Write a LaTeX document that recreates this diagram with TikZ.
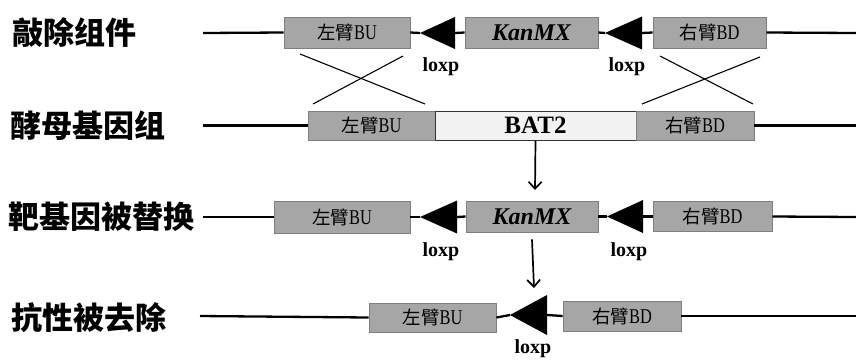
\documentclass[tikz,border=0pt]{standalone}
\usepackage{fontspec}
\setmainfont{Liberation Serif}
\newfontfamily\cjk{Noto Sans CJK SC}
\usetikzlibrary{arrows.meta}

\definecolor{armfill}{HTML}{A6A6A6}
\definecolor{armedge}{HTML}{7F7F7F}
\definecolor{genefill}{HTML}{F2F2F2}

% label of a homology arm: Chinese word plus a condensed serif suffix
\newcommand\armlabel[2]{{\cjk\fontsize{18.5}{18.5}\selectfont #1}\scalebox{0.78}[1]{\rmfamily\fontsize{21}{21}\selectfont #2}}

\tikzset{
  rowlabel/.style={anchor=west, inner sep=0pt, font=\cjk\bfseries\fontsize{31}{31}\selectfont},
  armbox/.style={draw=armedge, fill=armfill, line width=0.8pt, inner sep=0pt, minimum height=31pt},
  markerbox/.style={armbox, font=\bfseries\itshape\fontsize{24}{24}\selectfont},
  genebox/.style={draw=black!80, fill=genefill, line width=1pt, inner sep=0pt, minimum height=29pt,
                  font=\bfseries\fontsize{25}{25}\selectfont},
  backbone/.style={line width=2.3pt, line cap=butt},
  crossline/.style={line width=1.1pt},
  sitelabel/.style={font=\bfseries\fontsize{20}{20}\selectfont, inner sep=0pt},
  downarrow/.style={line width=1.7pt, -{Straight Barb[length=7pt,width=13pt,line width=1.7pt]}},
}

\begin{document}
\begin{tikzpicture}[x=1pt, y=-1pt]
\path[use as bounding box] (0,0) rectangle (856,360);

% ---------------- row 1: knockout cassette ----------------
\node[rowlabel] (L1) at (12,32) {敲除组件};
\coordinate (s1) at (203,33);
\coordinate (e1) at (856,33);
\node[armbox, minimum width=126pt] (a1) at (347,32.5) {\armlabel{左臂}{BU}};
\node[markerbox, minimum width=133pt] (k1) at (531.5,32.5) {KanMX};
\node[armbox, minimum width=113pt] (b1) at (709.5,32.5) {\armlabel{右臂}{BD}};
\coordinate (p1tip) at (420,33); \coordinate (p1base) at (455,33);
\coordinate (p2tip) at (605,33); \coordinate (p2base) at (642,33);
\draw[backbone] (s1) -- (a1.west);
\draw[backbone] (a1.east) -- (p1tip);
\draw[backbone] (p1base) -- (k1.west);
\draw[backbone] (k1.east) -- (p2tip);
\draw[backbone] (p2base) -- (b1.west);
\draw[backbone] (b1.east) -- (e1);
\fill (p1tip) -- ([yshift=16pt]p1base) -- ([yshift=-16pt]p1base) -- cycle;
\fill (p2tip) -- ([yshift=16.5pt]p2base) -- ([yshift=-16.5pt]p2base) -- cycle;
\node[sitelabel] (x1) at (441,67) {loxp};
\node[sitelabel] (x2) at (627,67) {loxp};

% crossover between cassette arms and genome arms
\coordinate (c1a) at (300,54);  \coordinate (c1b) at (425,104);
\coordinate (c1c) at (403,56);  \coordinate (c1d) at (313,104);
\coordinate (c2a) at (660,56);  \coordinate (c2b) at (753,104);
\coordinate (c2c) at (760,57);  \coordinate (c2d) at (642,104);
\draw[crossline] (c1a) -- (c1b);
\draw[crossline] (c1c) -- (c1d);
\draw[crossline] (c2a) -- (c2b);
\draw[crossline] (c2c) -- (c2d);

% ---------------- row 2: yeast genome ----------------
\node[rowlabel] (L2) at (10,126) {酵母基因组};
\coordinate (s2) at (203,125.5);
\coordinate (e2) at (856,125.5);
\node[armbox, minimum width=127pt, minimum height=29pt] (a2) at (371.5,125.5) {\armlabel{左臂}{BU}};
\node[genebox, minimum width=201pt] (g2) at (535.5,125.5) {BAT2};
\node[armbox, minimum width=118pt, minimum height=29pt] (b2) at (695,125.5) {\armlabel{右臂}{BD}};
\draw[backbone] (s2) -- (a2.west);
\draw[backbone] (b2.east) -- (e2);

\coordinate (d1) at (535,190);
\draw[downarrow] (g2.south) -- (d1);

% ---------------- row 3: target gene replaced ----------------
\node[rowlabel] (L3) at (8,217) {靶基因被替换};
\coordinate (s3) at (203,217);
\coordinate (e3) at (856,217);
\node[armbox, minimum width=136pt, minimum height=32pt] (a3) at (342,217) {\armlabel{左臂}{BU}};
\node[markerbox, minimum width=132pt] (k3) at (532,216.5) {KanMX};
\node[armbox, minimum width=119pt, minimum height=30pt] (b3) at (712.5,216.5) {\armlabel{右臂}{BD}};
\coordinate (p3tip) at (420,217); \coordinate (p3base) at (457,217);
\coordinate (p4tip) at (607,216.5); \coordinate (p4base) at (643,216.5);
\draw[backbone] (s3) -- (a3.west);
\draw[backbone] (a3.east) -- (p3tip);
\draw[backbone] (p3base) -- (k3.west);
\draw[backbone] (k3.east) -- (p4tip);
\draw[backbone] (p4base) -- (b3.west);
\draw[backbone] (b3.east) -- (e3);
\fill (p3tip) -- ([yshift=16.5pt]p3base) -- ([yshift=-16.5pt]p3base) -- cycle;
\fill (p4tip) -- ([yshift=16.5pt]p4base) -- ([yshift=-16.5pt]p4base) -- cycle;
\node[sitelabel] (x3) at (441,252) {loxp};
\node[sitelabel] (x4) at (629,252) {loxp};

\coordinate (d2) at (534,288);
\draw[downarrow] ([yshift=-7pt]k3.south) -- (d2);

% ---------------- row 4: resistance marker removed ----------------
\node[rowlabel] (L4) at (11,318) {抗性被去除};
\coordinate (s4) at (200,316);
\coordinate (e4) at (856,316);
\node[armbox, minimum width=127pt, minimum height=29pt] (a4) at (432.5,317.5) {\armlabel{左臂}{BU}};
\node[armbox, minimum width=118pt, minimum height=30pt] (b4) at (622,316) {\armlabel{右臂}{BD}};
\coordinate (p5tip) at (510,315); \coordinate (p5base) at (547,315);
\draw[backbone] (s4) -- (a4.west);
\draw[backbone] (a4.east) -- (p5tip);
\draw[backbone] (p5base) -- (b4.west);
\draw[backbone] (b4.east) -- (e4);
\fill (p5tip) -- ([yshift=20pt]p5base) -- ([yshift=-20pt]p5base) -- cycle;
\node[sitelabel] (x5) at (533,349) {loxp};
\end{tikzpicture}
\end{document}
